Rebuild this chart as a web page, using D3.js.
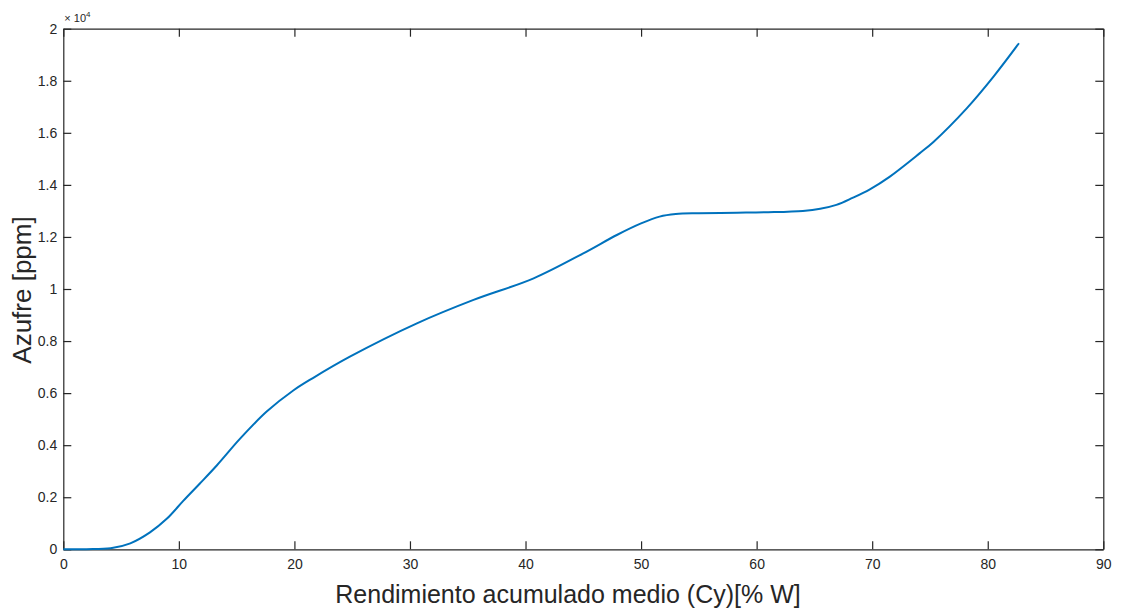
<!DOCTYPE html>
<html>
<head>
<meta charset="utf-8">
<script src="https://cdn.jsdelivr.net/npm/d3@7"></script>
<style>
  body { margin: 0; background: #fff; }
  text { font-family: "Liberation Sans", Arial, sans-serif; fill: #262626; }
</style>
</head>
<body>
<div id="chart"></div>
<script>
// values
const rendimiento = [0, 2, 4.1, 5.8, 7.5, 8.95, 10.4, 11.8, 13.3, 15.3, 17.6, 19.9, 21.6, 24.8, 30.6, 35.5, 40.7, 45.0, 47.9, 50, 51.6, 53, 55, 58.3, 61, 64.0, 65.5, 66.9, 68.3, 69.8, 71.5, 74.1, 75.3, 78.2, 80.5, 82.7];
const azufre      = [0, 5, 40, 230, 650, 1170, 1870, 2520, 3230, 4250, 5290, 6100, 6580, 7400, 8680, 9580, 10410, 11370, 12075, 12520, 12780, 12880, 12910, 12930, 12950, 13000, 13080, 13230, 13500, 13830, 14310, 15210, 15650, 16950, 18160, 19440];

const xTicks = [0, 10, 20, 30, 40, 50, 60, 70, 80, 90];
const yTicks = [0, 2000, 4000, 6000, 8000, 10000, 12000, 14000, 16000, 18000, 20000];
const yTickLabels = ["0", "0.2", "0.4", "0.6", "0.8", "1", "1.2", "1.4", "1.6", "1.8", "2"];

const W = 1126, H = 610;
const margin = {top: 28.7, right: 22.7, bottom: 60.7, left: 63.3};
const width = W - margin.left - margin.right,
      height = H - margin.top - margin.bottom;

const svg = d3.select("#chart").append("svg")
    .attr("width", W).attr("height", H);

const g = svg.append("g")
    .attr("transform", `translate(${margin.left},${margin.top})`);

const x = d3.scaleLinear().domain([0, 90]).range([0, width]);
const y = d3.scaleLinear().domain([0, 20000]).range([height, 0]);

const axisColor = "#262626";
const tick = 8;

// bottom / left with labels, top / right mirrored ticks only
const xAxis = g.append("g")
    .attr("transform", `translate(0,${height})`)
    .call(d3.axisBottom(x).tickValues(xTicks).tickSizeInner(-tick).tickSizeOuter(0).tickPadding(10));
const yAxis = g.append("g")
    .call(d3.axisLeft(y).tickValues(yTicks).tickFormat((d, i) => yTickLabels[i])
        .tickSizeInner(-tick).tickSizeOuter(0).tickPadding(6));
const xTop = g.append("g")
    .call(d3.axisTop(x).tickValues(xTicks).tickSizeInner(-tick).tickSizeOuter(0).tickFormat(""));
const yRight = g.append("g")
    .attr("transform", `translate(${width},0)`)
    .call(d3.axisRight(y).tickValues(yTicks).tickSizeInner(-tick).tickSizeOuter(0).tickFormat(""));

[xAxis, yAxis, xTop, yRight].forEach(a => {
  a.selectAll("path, line").attr("stroke", axisColor).attr("stroke-width", 1.2);
  a.selectAll("text").style("font-size", "14px").attr("fill", axisColor);
});

// the curve
const line = d3.line()
    .x((d, i) => x(rendimiento[i]))
    .y(d => y(d))
    .curve(d3.curveCatmullRom.alpha(0.5));

g.append("path")
    .datum(azufre)
    .attr("fill", "none")
    .attr("stroke", "#0072BD")
    .attr("stroke-width", 2)
    .attr("d", line);

// exponent label
const expo = svg.append("text")
    .attr("x", margin.left + 1)
    .attr("y", margin.top - 7)
    .style("font-size", "11px");
expo.append("tspan").text("\u00d7 10");
expo.append("tspan").attr("dy", -5).style("font-size", "8px").text("4");

// axis titles
svg.append("text")
    .attr("x", 568)
    .attr("y", 603)
    .attr("text-anchor", "middle")
    .style("font-size", "25px")
    .text("Rendimiento acumulado medio (Cy)[% W]");

svg.append("text")
    .attr("transform", `translate(31,290) rotate(-90)`)
    .attr("text-anchor", "middle")
    .style("font-size", "26px")
    .text("Azufre [ppm]");
</script>
</body>
</html>
